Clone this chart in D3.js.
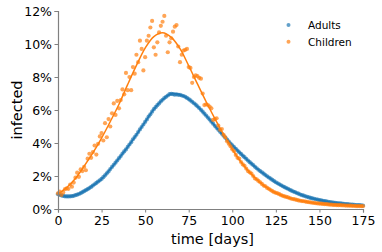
<!DOCTYPE html>
<html><head><meta charset="utf-8">
<script src="https://cdn.jsdelivr.net/npm/d3@7"></script>
<style>
html,body{margin:0;padding:0;background:#fff;}
svg{display:block;font-family:"DejaVu Sans",sans-serif;}
</style></head>
<body><svg id="c" width="382" height="252"></svg>
<script>
// ---- data (percent infected, one value per day starting at day 0) ----
const seriesNames = ["Adults", "Children"];
const xTicks = [0, 25, 50, 75, 100, 125, 150, 175];
const yTicks = [0, 2, 4, 6, 8, 10, 12];
const adultsPoints = [
0.90,0.86,0.82,0.79,0.77,0.76,
0.76,0.77,0.78,0.80,0.84,
0.87,0.91,0.96,1.02,1.08,
1.14,1.20,1.27,1.34,1.42,
1.50,1.58,1.66,1.74,1.82,
1.93,2.04,2.16,2.28,2.42,
2.55,2.68,2.81,2.94,3.08,
3.21,3.36,3.49,3.61,3.76,
3.91,4.05,4.22,4.36,4.50,
4.66,4.82,4.97,5.12,5.28,
5.43,5.60,5.74,5.90,6.05,
6.17,6.29,6.40,6.52,6.62,
6.72,6.80,6.88,6.96,6.98,
6.96,6.93,6.95,6.92,6.92,
6.88,6.85,6.80,6.73,6.66,
6.58,6.50,6.41,6.32,6.22,
6.12,6.01,5.90,5.78,5.66,
5.54,5.42,5.29,5.17,5.04,
4.92,4.80,4.68,4.56,4.44,
4.32,4.21,4.09,3.97,3.86,
3.75,3.65,3.54,3.44,3.34,
3.24,3.14,3.04,2.94,2.84,
2.75,2.66,2.56,2.47,2.38,
2.30,2.22,2.14,2.06,1.98,
1.91,1.84,1.76,1.69,1.62,
1.56,1.50,1.44,1.38,1.32,
1.27,1.22,1.16,1.11,1.06,
1.02,0.97,0.93,0.88,0.84,
0.81,0.77,0.74,0.70,0.67,
0.64,0.62,0.59,0.57,0.54,
0.52,0.50,0.48,0.46,0.44,
0.42,0.41,0.39,0.38,0.36,
0.35,0.34,0.33,0.31,0.30,
0.29,0.28,0.27,0.26,0.25,
0.24,0.23,0.23,0.22,0.21];
const childrenPoints = [
0.95,1.05,0.85,1.00,1.20,1.25,1.22,1.48,1.35,1.60,
1.90,2.20,1.95,2.40,2.30,2.55,2.35,3.05,3.35,3.10,
3.45,3.85,3.30,3.95,4.40,4.60,4.15,5.20,4.35,5.45,
5.00,5.80,6.40,5.70,6.55,6.10,6.60,7.25,6.95,8.25,
7.20,8.00,7.20,8.60,8.20,9.35,8.90,10.20,9.70,8.40,
9.20,10.20,10.50,11.00,11.40,9.80,9.35,10.10,10.70,11.10,
11.35,11.70,10.50,9.50,10.10,10.35,10.75,11.05,11.15,9.85,
8.90,9.35,9.60,9.65,9.70,8.60,8.55,7.65,8.00,8.10,
8.05,7.95,7.90,7.00,6.30,6.35,6.30,6.20,6.10,5.40,
5.45,5.50,5.05,4.80,4.85,4.50,4.35,4.10,3.95,3.80,
3.62,3.50,3.28,3.10,3.05,2.85,2.70,2.62,2.45,2.30,
2.22,2.15,2.00,1.85,1.80,1.70,1.62,1.52,1.42,1.38,
1.28,1.22,1.15,1.08,1.02,0.98,0.95,0.90,0.84,0.80,
0.76,0.73,0.70,0.66,0.62,0.60,0.58,0.55,0.52,0.50,
0.48,0.47,0.45,0.43,0.41,0.40,0.38,0.37,0.35,0.34,
0.33,0.32,0.31,0.30,0.29,0.28,0.27,0.26,0.25,0.25,
0.24,0.23,0.23,0.22,0.22,0.21,0.21,0.20,0.20,0.19,
0.19,0.18,0.18,0.18,0.17,0.17];
// smoothed fits, one value every 5 days
const fitDays = [0,5,10,15,20,25,30,35,40,45,50,55,60,65,70,75,80,85,90,95,100,105,110,115,120,125,130,135,140,145,150,155,160,165,170,175];
const adultsFit = [0.90,0.76,0.84,1.08,1.42,1.82,2.42,3.08,3.76,4.50,5.28,6.05,6.62,6.98,6.92,6.66,6.22,5.66,5.04,4.44,3.86,3.34,2.84,2.38,1.98,1.62,1.32,1.06,0.84,0.67,0.54,0.44,0.36,0.30,0.25,0.21];
const childrenFit = [0.90,1.30,1.85,2.60,3.40,4.30,5.30,6.35,7.55,8.70,9.75,10.45,10.68,10.40,9.72,8.68,7.58,6.50,5.48,4.52,3.62,2.85,2.22,1.70,1.28,0.98,0.76,0.60,0.48,0.40,0.33,0.28,0.24,0.21,0.19,0.17];
const colors = ["#1f77b4", "#ff7f0e"];

// ---- chart ----
const svg = d3.select("#c");
const L = 58, R = 363, T = 11, B = 209;
const x = d3.scaleLinear().domain([0, 175]).range([L, R]);
const y = d3.scaleLinear().domain([0, 12]).range([B, T]);

const series = [
  {name: seriesNames[0], pts: adultsPoints, fit: adultsFit, color: colors[0]},
  {name: seriesNames[1], pts: childrenPoints, fit: childrenFit, color: colors[1]}
];

const line = d3.line().x(d => x(d[0])).y(d => y(d[1])).curve(d3.curveCatmullRom.alpha(0.5));

series.forEach(s => {
  svg.append("g").selectAll("circle").data(s.pts).join("circle")
    .attr("cx", (v, i) => x(i)).attr("cy", v => y(v)).attr("r", 2.1)
    .attr("fill", s.color).attr("fill-opacity", 0.7);
  svg.append("path").datum(fitDays.map((d, i) => [d, s.fit[i]]))
    .attr("d", line).attr("fill", "none").attr("stroke", s.color).attr("stroke-width", 1.5);
});

// axes
const axColor = "#808080";
const gx = svg.append("g").attr("transform", `translate(0,${B})`)
  .call(d3.axisBottom(x).tickValues(xTicks).tickSize(3.5).tickPadding(4));
const gy = svg.append("g").attr("transform", `translate(${L},0)`)
  .call(d3.axisLeft(y).tickValues(yTicks).tickFormat(d => d + "%").tickSize(3.5).tickPadding(2.5));
[gx, gy].forEach(g => {
  g.select(".domain").attr("stroke", axColor).attr("stroke-width", 1.2);
  g.selectAll(".tick line").attr("stroke", axColor).attr("stroke-width", 1);
  g.selectAll(".tick text").attr("fill", "#000").style("font-size", "12.5px").style("font-family", "DejaVu Sans");
});

svg.append("text").attr("x", (L + R) / 2 + 2).attr("y", 244).attr("text-anchor", "middle")
  .style("font-size", "14.5px").text("time [days]");
svg.append("text").attr("transform", `translate(22,${(T + B) / 2}) rotate(-90)`)
  .attr("text-anchor", "middle").style("font-size", "14.5px").text("infected");

// legend
const lg = svg.append("g");
series.forEach((s, i) => {
  const yy = 25 + i * 16.7;
  lg.append("circle").attr("cx", 288.5).attr("cy", yy).attr("r", 2).attr("fill", s.color).attr("fill-opacity", 0.7);
  lg.append("text").attr("x", 308).attr("y", yy + 4).style("font-size", "10.5px").text(s.name);
});
</script></body></html>
